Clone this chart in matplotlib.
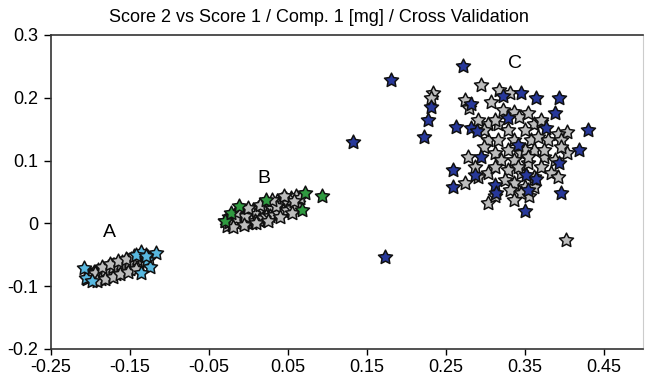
import numpy as np
import matplotlib.pyplot as plt
from matplotlib.path import Path

plt.rcParams.update({
    'font.family': 'Liberation Sans',
    'font.size': 13,
})

# cluster A (gray) and its cyan samples
A_x = [-0.204, -0.200, -0.197, -0.195, -0.193, -0.190, -0.188, -0.186, -0.184, -0.182,
       -0.180, -0.178, -0.176, -0.174, -0.172, -0.170, -0.168, -0.166, -0.164, -0.162,
       -0.160, -0.158, -0.156, -0.154, -0.152, -0.150, -0.148, -0.146, -0.144, -0.142,
       -0.140, -0.138, -0.135, -0.132, -0.129, -0.126,
       -0.198, -0.185, -0.175, -0.165, -0.155, -0.145, -0.170, -0.160, -0.150, -0.190, -0.180,
       -0.201, -0.196, -0.191, -0.187, -0.183, -0.179, -0.173, -0.169, -0.163, -0.159,
       -0.153, -0.149, -0.143, -0.139, -0.134, -0.194, -0.181, -0.171, -0.161, -0.151, -0.141,
       -0.192, -0.182, -0.172, -0.162, -0.152, -0.142, -0.185, -0.175, -0.165, -0.155, -0.145]
A_y = [-0.089, -0.080, -0.090, -0.077, -0.086, -0.074, -0.084, -0.089, -0.072, -0.080,
       -0.085, -0.069, -0.077, -0.083, -0.066, -0.073, -0.080, -0.064, -0.071, -0.077,
       -0.061, -0.068, -0.074, -0.058, -0.066, -0.072, -0.056, -0.063, -0.069, -0.054,
       -0.061, -0.067, -0.052, -0.059, -0.050, -0.056,
       -0.083, -0.079, -0.075, -0.070, -0.066, -0.062, -0.067, -0.072, -0.060, -0.082, -0.078,
       -0.086, -0.087, -0.088, -0.081, -0.083, -0.080, -0.079, -0.076, -0.075, -0.073,
       -0.070, -0.068, -0.066, -0.064, -0.062, -0.079, -0.074, -0.070, -0.065, -0.061, -0.057,
       -0.091, -0.088, -0.085, -0.081, -0.077, -0.073, -0.070, -0.064, -0.060, -0.056, -0.052]
A_cyan_x = [-0.136, -0.117, -0.128, -0.125, -0.136, -0.205, -0.208, -0.142, -0.130, -0.198]
A_cyan_y = [-0.045, -0.047, -0.058, -0.069, -0.079, -0.087, -0.071, -0.050, -0.052, -0.091]

# cluster B (gray) and its green samples
B_x = [-0.030, -0.027, -0.024, -0.021, -0.018, -0.015, -0.012, -0.009, -0.006, -0.003,
       0.000, 0.003, 0.006, 0.009, 0.012, 0.015, 0.018, 0.021, 0.024, 0.027,
       0.030, 0.033, 0.036, 0.039, 0.042, 0.045, 0.048, 0.051, 0.054, 0.057,
       0.060, 0.063, 0.066,
       0.000, 0.010, 0.020, 0.030, 0.040, 0.050, -0.010, 0.015, 0.025, 0.005,
       -0.025, -0.019, -0.013, -0.007, -0.001, 0.004, 0.008, 0.013, 0.018, 0.023,
       0.028, 0.033, 0.038, 0.044, 0.049, 0.055, 0.061, -0.016, -0.004, 0.035, 0.058,
       -0.020, -0.005, 0.010, 0.025, 0.040, 0.055, -0.015, 0.000, 0.015, 0.030, 0.045]
B_y = [0.004, -0.004, 0.010, -0.002, 0.012, 0.001, 0.014, 0.003, 0.016, 0.004,
       0.019, 0.006, 0.021, 0.009, 0.025, 0.010, 0.027, 0.013, 0.030, 0.015,
       0.032, 0.018, 0.035, 0.021, 0.037, 0.024, 0.039, 0.027, 0.041, 0.030,
       0.043, 0.033, 0.040,
       0.010, 0.015, 0.020, 0.024, 0.029, 0.032, 0.008, 0.003, 0.008, 0.000,
       0.002, 0.005, 0.006, 0.008, 0.001, 0.003, 0.004, 0.006, 0.008, 0.011,
       0.012, 0.014, 0.017, 0.019, 0.022, 0.025, 0.028, 0.009, 0.012, 0.028, 0.036,
       -0.006, -0.003, 0.000, 0.004, 0.010, 0.017, 0.018, 0.024, 0.030, 0.037, 0.043]
B_green_x = [0.093, 0.072, 0.068, -0.030, -0.022, -0.012, 0.022]
B_green_y = [0.043, 0.048, 0.021, 0.003, 0.017, 0.027, 0.037]

# cluster C (gray) and its blue samples
C_x = [0.234, 0.295, 0.274, 0.280, 0.318, 0.331, 0.308, 0.322, 0.337, 0.343,
       0.304, 0.316, 0.362, 0.371, 0.404, 0.392, 0.329, 0.350, 0.304, 0.299,
       0.316, 0.337, 0.358, 0.367, 0.379, 0.396, 0.404, 0.396, 0.278, 0.312,
       0.329, 0.346, 0.362, 0.375, 0.388, 0.320, 0.337, 0.354, 0.371, 0.383,
       0.392, 0.304, 0.329, 0.346, 0.362, 0.274, 0.291, 0.325, 0.337, 0.350,
       0.362, 0.331, 0.346, 0.356, 0.304, 0.312, 0.337, 0.312, 0.291, 0.299,
       0.354, 0.371, 0.350, 0.341, 0.354, 0.375, 0.312, 0.287, 0.402, 0.231]
C_y = [0.207, 0.220, 0.196, 0.183, 0.212, 0.207, 0.194, 0.181, 0.178, 0.170,
       0.159, 0.159, 0.159, 0.162, 0.146, 0.143, 0.149, 0.149, 0.133, 0.122,
       0.133, 0.133, 0.133, 0.138, 0.133, 0.133, 0.112, 0.122, 0.106, 0.112,
       0.117, 0.112, 0.117, 0.106, 0.101, 0.101, 0.101, 0.096, 0.090, 0.080,
       0.074, 0.080, 0.085, 0.080, 0.074, 0.064, 0.074, 0.069, 0.064, 0.058,
       0.058, 0.053, 0.048, 0.043, 0.032, 0.043, 0.037, 0.165, 0.165, 0.149,
       0.175, 0.165, 0.117, 0.090, 0.106, 0.117, 0.090, 0.090, -0.026, 0.200]
C_blue_x = [0.272, 0.181, 0.133, 0.173, 0.430, 0.419, 0.394, 0.388, 0.364, 0.345,
            0.396, 0.394, 0.350, 0.352, 0.354, 0.312, 0.314, 0.259, 0.259, 0.287,
            0.295, 0.263, 0.282, 0.290, 0.222, 0.228, 0.232, 0.329, 0.341, 0.377,
            0.282, 0.322, 0.364]
C_blue_y = [0.250, 0.228, 0.130, -0.053, 0.149, 0.117, 0.199, 0.175, 0.199, 0.208,
            0.048, 0.096, 0.019, 0.077, 0.053, 0.061, 0.048, 0.085, 0.058, 0.077,
            0.106, 0.154, 0.152, 0.147, 0.138, 0.165, 0.186, 0.168, 0.125, 0.152,
            0.190, 0.203, 0.070]

X_TICKS = [-0.25, -0.15, -0.05, 0.05, 0.15, 0.25, 0.35, 0.45]
Y_TICKS = [-0.2, -0.1, 0, 0.1, 0.2, 0.3]

GRAY = '#bdbdbd'
CYAN = '#58b8e0'
GREEN = '#2f9a40'
BLUE = '#27389a'

# fatter five-point star than matplotlib's default '*'
ang = np.pi / 2 + np.arange(10) * np.pi / 5
rad = np.where(np.arange(10) % 2 == 0, 1.0, 0.5)
verts = np.column_stack([rad * np.cos(ang), rad * np.sin(ang)])
STAR = Path(np.vstack([verts, verts[:1]]), closed=True)

fig = plt.figure(figsize=(6.45, 3.8), dpi=100)
ax = fig.add_axes([0.079, 0.0816, 0.918, 0.8264])


def stars(x, y, color):
    ax.scatter(x, y, marker=STAR, s=112, c=color, edgecolors='#111111', linewidths=1.1, zorder=3)


stars(A_x, A_y, GRAY)
stars(A_cyan_x, A_cyan_y, CYAN)
stars(B_x, B_y, GRAY)
stars(B_green_x, B_green_y, GREEN)
stars(C_x, C_y, GRAY)
stars(C_blue_x, C_blue_y, BLUE)

ax.text(-0.176, -0.014, 'A', fontsize=14, ha='center', va='center')
ax.text(0.02, 0.072, 'B', fontsize=14, ha='center', va='center')
ax.text(0.338, 0.254, 'C', fontsize=14, ha='center', va='center')

ax.set_xlim(-0.25, 0.5)
ax.set_ylim(-0.2, 0.3)
ax.set_xticks(X_TICKS)
ax.set_xticklabels(['-0.25', '-0.15', '-0.05', '0.05', '0.15', '0.25', '0.35', '0.45'])
ax.set_yticks(Y_TICKS)
ax.set_yticklabels(['-0.2', '-0.1', '0', '0.1', '0.2', '0.3'])
ax.tick_params(axis='x', direction='out', length=4, width=1, pad=3)
ax.tick_params(axis='y', direction='out', length=5, width=1, pad=4)

for side in ['left', 'bottom', 'top']:
    ax.spines[side].set_color('#333333')
    ax.spines[side].set_linewidth(1.2)
ax.spines['right'].set_color('#cccccc')

fig.text(0.495, 0.953, 'Score 2 vs Score 1 / Comp. 1 [mg] / Cross Validation',
         ha='center', va='center', fontsize=13)

fig.savefig('out.png', dpi=100)
